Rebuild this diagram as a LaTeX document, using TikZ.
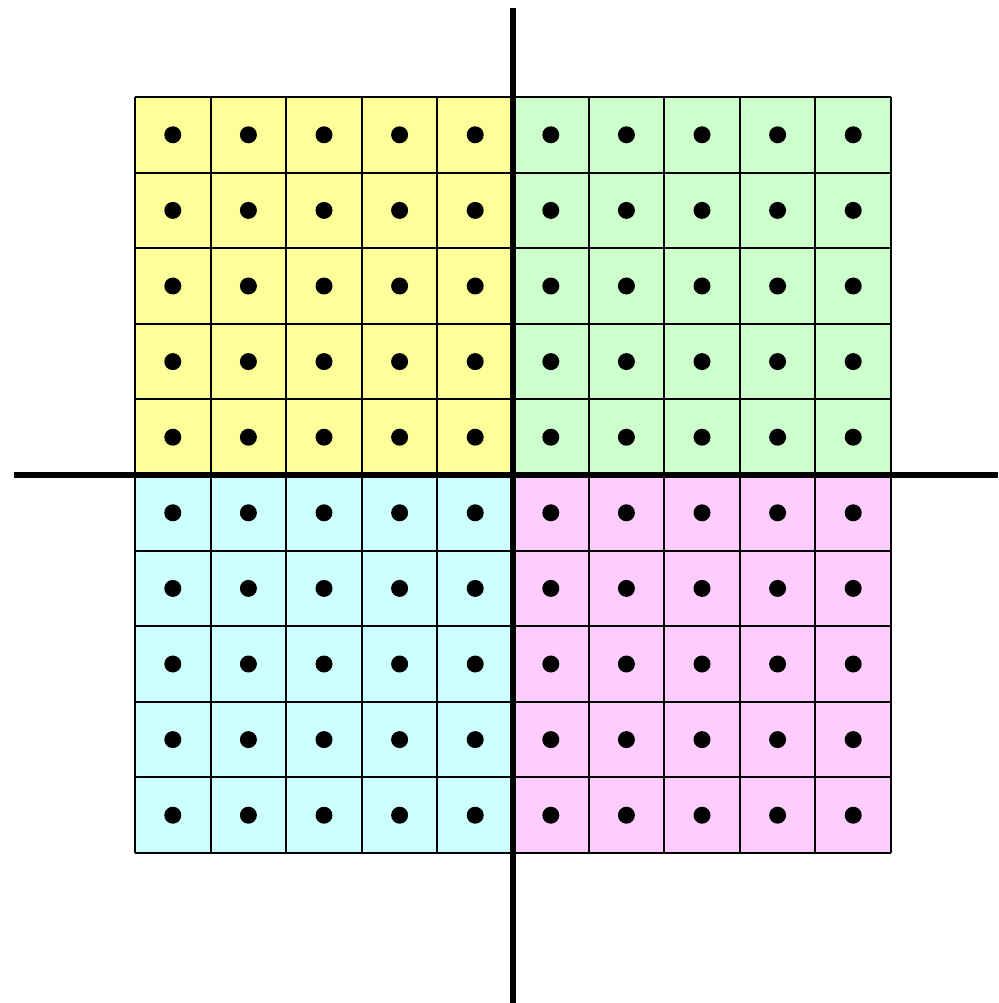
\documentclass[tikz,border=0pt]{standalone}
\definecolor{qyellow}{HTML}{FFFF99}
\definecolor{qgreen}{HTML}{CCFFCC}
\definecolor{qcyan}{HTML}{CCFFFF}
\definecolor{qpink}{HTML}{FFCCFF}
\begin{document}
\begin{tikzpicture}[x=0.02cm,y=-0.02cm,
  cellline/.style={draw=black,line width=1.05pt},
  axisline/.style={draw=black,line width=3.5pt},
  dotmark/.style={fill=black}]
\useasboundingbox (0,0) rectangle (998,1003);
\fill[qyellow] (135,97) rectangle (513,475);
\fill[qgreen] (513,97) rectangle (891,475);
\fill[qcyan] (135,475) rectangle (513,853);
\fill[qpink] (513,475) rectangle (891,853);
\foreach \i in {0,...,10} {
  \draw[cellline] ({135+75.6*\i},97) -- ({135+75.6*\i},853);
  \draw[cellline] (135,{97+75.6*\i}) -- (891,{97+75.6*\i});
}
\foreach \i in {0,...,9} {
  \foreach \j in {0,...,9} {
    \fill[dotmark] ({172.8+75.6*\i},{134.8+75.6*\j}) circle (8.5);
  }
}
\coordinate (vtop) at (513,8);
\coordinate (vbot) at (513,1003);
\coordinate (hl) at (14,475);
\coordinate (hr) at (998,475);
\draw[axisline] (vtop) -- (vbot);
\draw[axisline] (hl) -- (hr);
\end{tikzpicture}
\end{document}
